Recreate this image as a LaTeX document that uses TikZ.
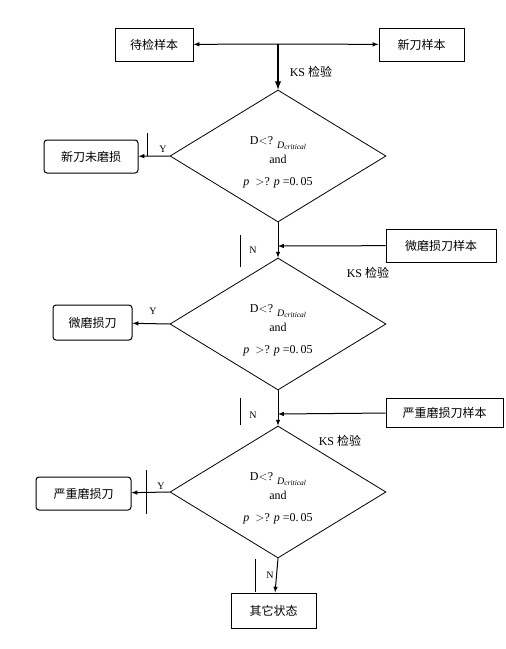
\documentclass[tikz,border=0pt]{standalone}
\usepackage{fontspec}
\setmainfont{Liberation Serif}
\newfontfamily\cjk{Noto Sans CJK SC}
\usetikzlibrary{shapes,arrows,positioning}
\tikzstyle{box}=[rectangle, draw=black, line width=1, minimum height=33pt, inner sep=2pt, font=\cjk\fontsize{12}{14}\selectfont]
\tikzstyle{rbox}=[box, rounded corners=3pt]
\tikzstyle{test}=[diamond, draw=black, line width=0.8, minimum width=216pt, minimum height=132pt, aspect=1.6, inner sep=0pt, align=center, font=\fontsize{12}{19}\selectfont]
\tikzstyle{l1}=[line width=1]
\tikzstyle{arr}=[l1, -latex]
\tikzstyle{lab}=[font=\fontsize{10}{12}\selectfont, inner sep=0pt]
\tikzstyle{ks}=[font=\fontsize{12}{14}\selectfont, inner sep=0pt]
\newcommand{\crit}{\textit{\fontsize{10}{10}\selectfont D}\raisebox{-1pt}{\textit{\fontsize{7.5}{8}\selectfont critical}}}
\newcommand{\cond}{\rule{0pt}{20pt}D$<$? \raisebox{-4pt}{\crit}\\ and\\[3pt] \textit{p}\ \ $>$? \textit{p}\ =0.\,05}

\begin{document}
\begin{tikzpicture}[x=1pt, y=-1pt]
    \useasboundingbox (0,0) rectangle (506,649);
    % samples on top
    \node[box, minimum width=78pt] at (154,44.5) (dai) {待检样本};
    \node[box, minimum width=85pt] at (421.5,44.5) (xin) {新刀样本};
    \coordinate (j) at (278,44);
    \node[ks] at (311,72) {KS {\cjk 检验}};

    % three tests
    \node[test] at (278,156) (d1) {\cond};
    \node[test] at (278,324) (d2) {\cond};
    \node[test] at (278,492) (d3) {\cond};

    % results
    \node[rbox, minimum width=94pt] at (91,156.5) (r1) {新刀未磨损};
    \node[rbox, minimum width=79pt, minimum height=35pt] at (92.5,322.5) (r2) {微磨损刀};
    \node[rbox, minimum width=95pt] at (83.5,493.5) (r3) {严重磨损刀};
    \node[box, minimum width=85pt, minimum height=35pt] at (273.5,610.5) (other) {其它状态};

    % worn samples
    \node[box, minimum width=110pt] at (441,245.5) (s2) {微磨损刀样本};
    \node[box, minimum width=117pt, minimum height=29pt] at (444.5,412.5) (s3) {严重磨损刀样本};
    \coordinate (m2) at (278,246);
    \coordinate (m3) at (278,414);

    \draw[arr] (j) -- (dai);
    \draw[arr] (j) -- (xin);
    \draw[arr, line width=1.8] (j) -- (d1.north);
    \draw[arr] (d1.west) -- (r1);
    \draw[arr] (d1.south) -- (d2.north);
    \draw[arr] (s2) -- (m2);
    \draw[arr] (d2.west) -- (r2);
    \draw[arr] (d2.south) -- (d3.north);
    \draw[arr] (s3) -- (m3);
    \draw[arr] (d3.west) -- (r3);
    \draw[arr] (d3.south) -- (other);

    % labels and bars
    \node[ks] at (368,273) {KS {\cjk 检验}};
    \node[ks] at (340,441) {KS {\cjk 检验}};
    \node[lab] at (163,149) {Y};
    \node[lab] at (153,311) {Y};
    \node[lab] at (161,486) {Y};
    \node[lab] at (253,250) {N};
    \node[lab] at (253,415) {N};
    \node[lab] at (270,575) {N};
    \draw[line width=0.8] (147,133) -- (147,156);
    \draw[line width=0.8] (240,235) -- (240,267);
    \draw[line width=0.8] (240,398) -- (240,425);
    \draw[line width=0.8] (146,470) -- (146,514);
    \draw[line width=0.8] (255,559) -- (255,592);
\end{tikzpicture}
\end{document}
